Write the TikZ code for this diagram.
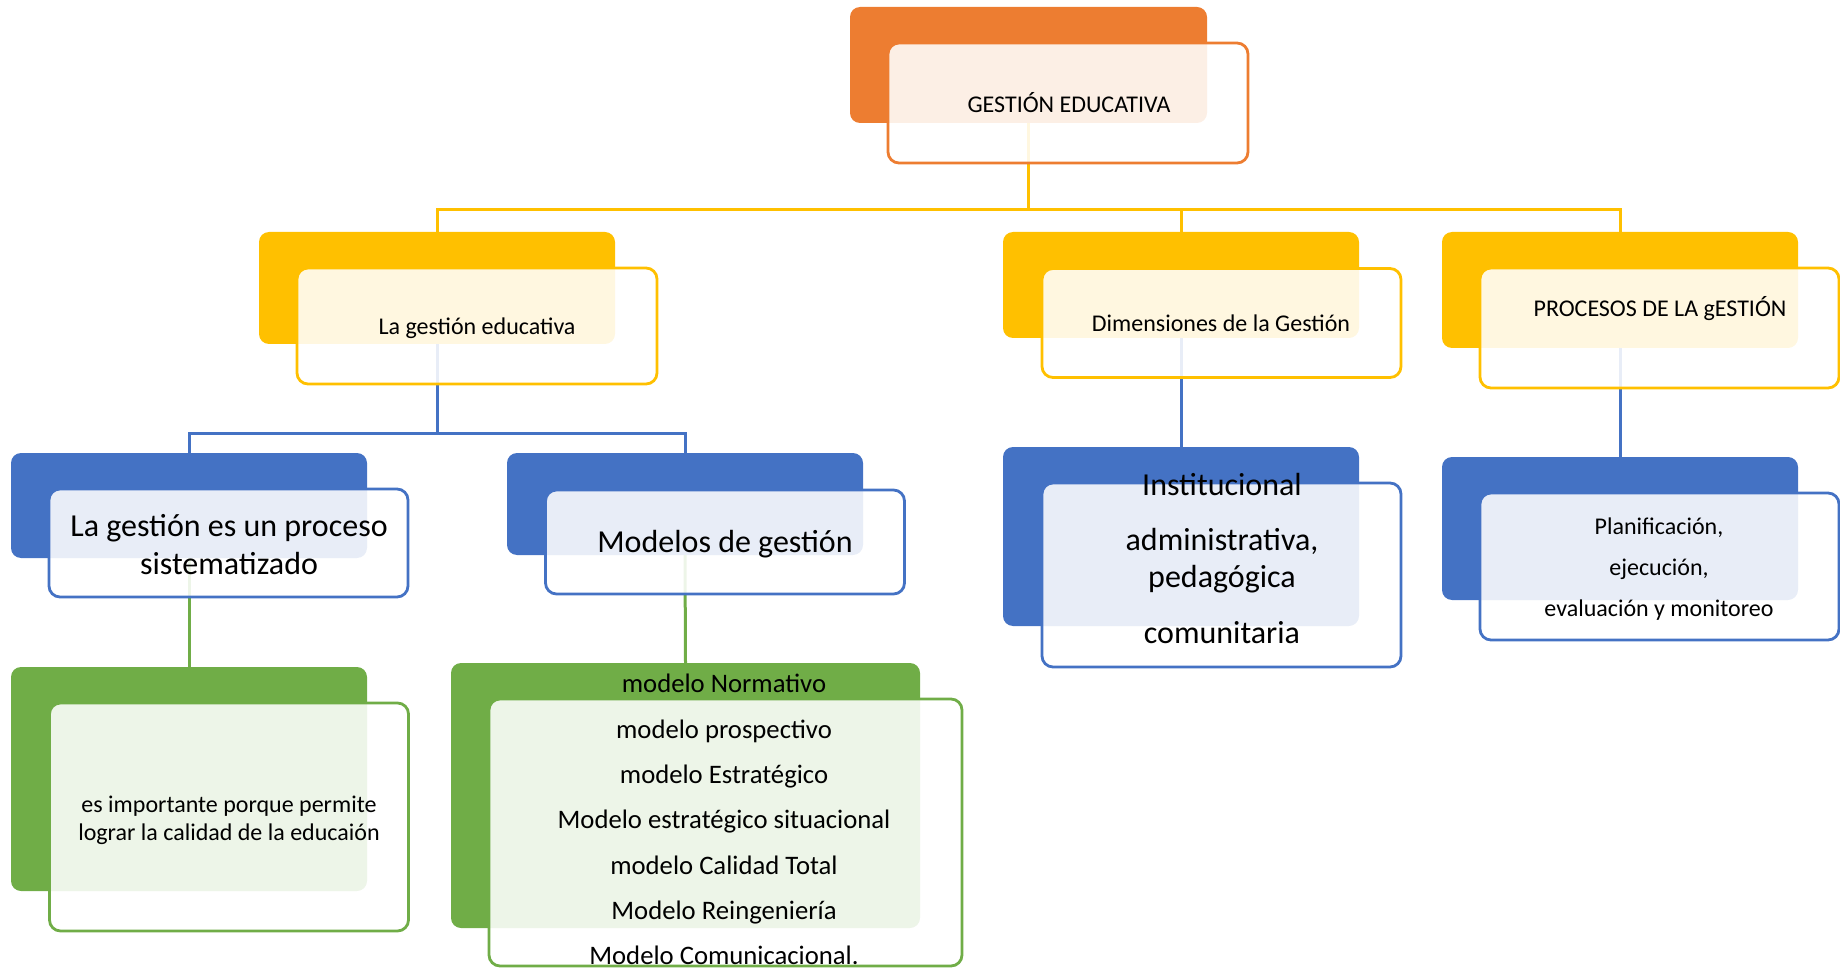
\documentclass[tikz,border=0pt]{standalone}
\usepackage{fontspec}
\setmainfont{Carlito}
\definecolor{orn}{HTML}{ED7D31}
\definecolor{ylw}{HTML}{FFC000}
\definecolor{blu}{HTML}{4472C4}
\definecolor{grn}{HTML}{70AD47}
\begin{document}
\begin{tikzpicture}[x=1pt,y=-1pt,
  back/.style={rectangle,rounded corners=10,fill=#1,inner sep=0},
  front/.style={rectangle,rounded corners=11,draw=#1,line width=2.8,fill=white,fill opacity=0.88,inner sep=0},
  link/.style={draw=#1,line width=3},
  txt/.style={inner sep=0,align=center,font=\fontsize{#1}{#1}\selectfont}]

\useasboundingbox (0,0) rectangle (1840,968);

\foreach \n/\c/\x/\y/\w/\h in {topb/orn/1028.5/65/357/116, gedub/ylw/437/288/356/112,
    dimb/ylw/1181/285/356/106, procb/ylw/1620/290/356/116, sistb/blu/189/505.5/356/105,
    modb/blu/685/504/356/102, instb/blu/1181/536.5/356/179, planb/blu/1620/528.5/356/143,
    impb/grn/189/779/356/224, listb/grn/685.5/795.5/469/265}
  \node[back=\c,minimum width=\w,minimum height=\h] (\n) at (\x,\y) {};

\coordinate (bar1) at (0,210);
\coordinate (bar2) at (0,433);

\foreach \n in {gedub,dimb,procb}
  \draw[link=ylw] (topb.south) -- (topb.south |- bar1) -| (\n.north);
\foreach \n in {sistb,modb}
  \draw[link=blu] (gedub.south) -- (gedub.south |- bar2) -| (\n.north);
\draw[link=blu] (dimb.south) -- (instb.north);
\draw[link=blu] (procb.south) -- (planb.north);
\draw[link=grn] (sistb.south) -- (impb.north);
\draw[link=grn] (modb.south) -- (listb.north);

\foreach \n/\c/\x/\y/\w/\h in {top/orn/1068/103/360/120, gedu/ylw/477/326/360/116,
    dim/ylw/1221.5/323/359/109, proc/ylw/1659.5/328/359/120, sist/blu/228.5/543/359/108,
    mod/blu/725/542/359/104, inst/blu/1221.5/575/359/184, plan/blu/1659.5/566.5/359/147,
    imp/grn/229/817/359/228, list/grn/725.5/832.5/473/267}
  \node[front=\c,minimum width=\w,minimum height=\h] (\n) at (\x,\y) {};

\node[txt=24,anchor=base] (topt) at (1069,113) {GESTIÓN EDUCATIVA};
\node[txt=24,anchor=base] (gedut) at (477,335) {La gestión educativa};
\node[txt=24,anchor=base] (dimt) at (1221,332) {Dimensiones de la Gestión};
\node[txt=24,anchor=base] (proct) at (1660,317) {PROCESOS DE LA gESTIÓN};
\node[txt=32,anchor=base] (modt) at (725,552) {Modelos de gestión};
\node[txt=32,font=\fontsize{32}{38}\selectfont] (sistt) at (229,545) {La gestión es un proceso\\sistematizado};
\node[txt=32,font=\fontsize{32}{37}\selectfont] (instt) at (1222,559)
  {Institucional\\[18pt]administrativa,\\pedagógica\\[19pt]comunitaria};
\node[txt=24,font=\fontsize{24}{41}\selectfont] (plant) at (1659,569)
  {Planificación,\\ejecución,\\evaluación y monitoreo};
\node[txt=24,font=\fontsize{24}{28}\selectfont] (impt) at (229,820)
  {es importante porque permite\\lograr la calidad de la educaión};
\node[txt=26.7,font=\fontsize{26.7}{45.33}\selectfont] (listt) at (724,819.5)
  {modelo Normativo\\modelo prospectivo\\modelo Estratégico\\Modelo estratégico situacional\\modelo Calidad Total\\Modelo Reingeniería\\Modelo Comunicacional.};

\end{tikzpicture}
\end{document}
